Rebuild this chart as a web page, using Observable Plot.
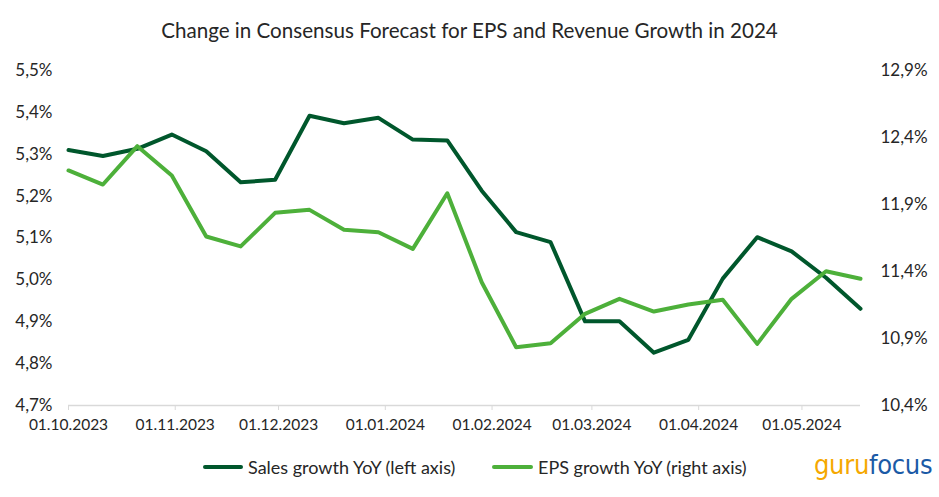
<!DOCTYPE html>
<html>
<head>
<meta charset="utf-8">
<script src="https://cdn.jsdelivr.net/npm/d3@7"></script>
<script src="https://cdn.jsdelivr.net/npm/@observablehq/plot@0.6"></script>
<style>
  body { margin: 0; background: #fff; }
  #wrap { position: relative; width: 939px; height: 497px; font-family: Lato, "Open Sans", sans-serif; color: #262626; }
  #title { position: absolute; left: 0; width: 939px; top: 17px; text-align: center; font-size: 20.6px; line-height: 26px; }
  .leg { position: absolute; top: 456px; font-size: 18px; line-height: 22px; white-space: nowrap; }
  .sw { position: absolute; top: 465px; height: 4px; border-radius: 2px; }
  #logo { position: absolute; left: 814px; top: 449px; font-family: "DejaVu Sans Condensed", "Liberation Sans Narrow", sans-serif; font-size: 27px; letter-spacing: -0.3px; }
  #plot { position: absolute; left: 0; top: 0; }
</style>
</head>
<body>
<div id="wrap">
  <div id="plot"></div>
  <div id="title"></div>
  <div class="sw" id="sw1"></div><div class="leg" id="leg1"></div>
  <div class="sw" id="sw2"></div><div class="leg" id="leg2"></div>
  <div id="logo"><span style="color:#F5A800">guru</span><span style="color:#1B5AA6">focus</span></div>
</div>
<script>
const titleText = "Change in Consensus Forecast for EPS and Revenue Growth in 2024";
const seriesNames = ["Sales growth YoY (left axis)", "EPS growth YoY (right axis)"];
const seriesColors = ["#00572C", "#4DB03A"];

const dates = ["2023-10-01","2023-10-11","2023-10-21","2023-10-31","2023-11-10","2023-11-20",
  "2023-11-30","2023-12-10","2023-12-20","2023-12-30","2024-01-09","2024-01-19",
  "2024-01-29","2024-02-08","2024-02-18","2024-02-28","2024-03-09","2024-03-19",
  "2024-03-29","2024-04-08","2024-04-18","2024-04-28","2024-05-08","2024-05-18"];
const sales = [5.310, 5.296, 5.313, 5.347, 5.307, 5.233, 5.239, 5.392, 5.374, 5.387, 5.335, 5.333,
  5.213, 5.114, 5.090, 4.901, 4.901, 4.826, 4.857, 5.003, 5.102, 5.068, 5.005, 4.931];
const eps = [12.154, 12.049, 12.335, 12.116, 11.661, 11.587, 11.838, 11.860, 11.711, 11.693, 11.569, 11.984,
  11.320, 10.835, 10.865, 11.084, 11.196, 11.101, 11.154, 11.189, 10.860, 11.196, 11.402, 11.346];

const leftTicks = [4.7, 4.8, 4.9, 5.0, 5.1, 5.2, 5.3, 5.4, 5.5];
const rightTicks = [10.4, 10.9, 11.4, 11.9, 12.4, 12.9];
const monthTicks = ["2023-10-01","2023-11-01","2023-12-01","2024-01-01","2024-02-01","2024-03-01","2024-04-01","2024-05-01"];

const leftDomain = [4.7, 5.5];
const rightDomain = [10.4, 12.9];
const toLeft = v => leftDomain[0] + (v - rightDomain[0]) * (leftDomain[1] - leftDomain[0]) / (rightDomain[1] - rightDomain[0]);

const parse = d3.utcParse("%Y-%m-%d");
const rows = dates.map((d, i) => ({date: parse(d), sales: sales[i], eps: toLeft(eps[i])}));
const fmtPct = v => v.toFixed(1).replace(".", ",") + "%";
const fmtDate = d3.utcFormat("%d.%m.%Y");

const chart = Plot.plot({
  width: 939,
  height: 497,
  marginLeft: 68,
  marginRight: 79,
  marginTop: 70,
  marginBottom: 92,
  style: {fontFamily: "Lato, 'Open Sans', sans-serif", fontSize: "17px", color: "#262626", background: "transparent"},
  x: {type: "utc", domain: [parse(dates[0]), parse(dates[dates.length - 1])]},
  y: {domain: leftDomain},
  marks: [
    Plot.ruleY([leftDomain[0]], {stroke: "#d9d9d9", strokeWidth: 1.5}),
    Plot.axisX({ticks: monthTicks.map(parse), tickFormat: fmtDate, tickSize: 5, tickPadding: 8, stroke: "#d9d9d9", fill: "#262626", label: null, fontSize: 15.5}),
    Plot.axisY({ticks: leftTicks, tickFormat: fmtPct, tickSize: 0, tickPadding: 16, label: null, fill: "#262626", fontSize: 17}),
    Plot.axisY({anchor: "right", ticks: rightTicks.map(toLeft), tickFormat: (v, i) => fmtPct(rightTicks[i]), tickSize: 0, tickPadding: 20, label: null, fill: "#262626", fontSize: 17}),
    Plot.line(rows, {x: "date", y: "sales", stroke: seriesColors[0], strokeWidth: 4, strokeLinejoin: "round"}),
    Plot.line(rows, {x: "date", y: "eps", stroke: seriesColors[1], strokeWidth: 4, strokeLinejoin: "round"})
  ]
});
document.getElementById("plot").appendChild(chart);
document.getElementById("title").textContent = titleText;
const sw1 = document.getElementById("sw1"), sw2 = document.getElementById("sw2");
sw1.style.left = "203px"; sw1.style.width = "40px"; sw1.style.background = seriesColors[0];
sw2.style.left = "492px"; sw2.style.width = "41px"; sw2.style.background = seriesColors[1];
const l1 = document.getElementById("leg1"), l2 = document.getElementById("leg2");
l1.style.left = "248px"; l1.textContent = seriesNames[0];
l2.style.left = "538px"; l2.textContent = seriesNames[1];
</script>
</body>
</html>
